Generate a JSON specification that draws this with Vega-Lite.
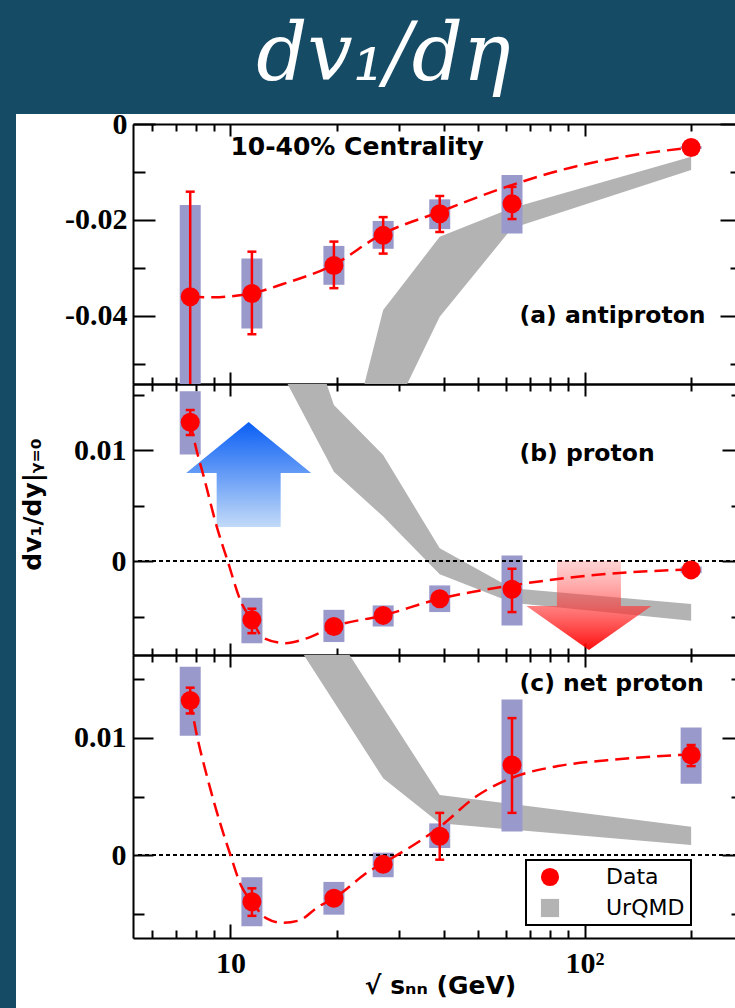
{
  "$schema": "https://vega.github.io/schema/vega-lite/v6.json",
  "width": 719,
  "height": 894,
  "autosize": {"type": "none"},
  "padding": {"left": 16, "top": 114, "right": 0, "bottom": 0},
  "background": "#164b66",
  "title": {"text": "dv₁/dη", "font": "DejaVu Serif", "fontStyle": "italic", "fontWeight": "normal", "fontSize": 80, "color": "white", "anchor": "middle", "frame": "group", "offset": -51, "baseline": "alphabetic", "dx": 8},
  "config": {
    "view": {"fill": "white", "stroke": null},
    "axis": {"grid": false, "domainColor": "#000000", "domainWidth": 2, "tickColor": "#000000", "tickWidth": 2, "labelFont": "Liberation Serif", "labelFontWeight": "bold", "labelFontSize": 30, "labelColor": "#000000", "titleFont": "DejaVu Sans", "titleFontWeight": "bold", "titleFontSize": 25, "titleColor": "#000000", "labelOverlap": false, "labelFlush": false, "labelBound": false, "zindex": 1, "ticks": true, "domain": true},
    "legend": {"strokeColor": "#000000", "strokeWidth": 2, "fillColor": "#ffffff", "padding": 6, "labelFont": "DejaVu Sans", "labelFontSize": 22, "labelColor": "#000000", "symbolStrokeWidth": 0, "symbolSize": 330, "rowPadding": 9, "labelOffset": 45, "symbolOffset": 7}
  },
  "datasets": {
    "pts": [
      {"p": "a", "x": 7.7, "y": -0.036, "lo": -0.058, "hi": -0.0141, "slo": -0.0551, "shi": -0.0169},
      {"p": "a", "x": 11.5, "y": -0.0353, "lo": -0.0438, "hi": -0.0266, "slo": -0.0426, "shi": -0.028},
      {"p": "a", "x": 19.6, "y": -0.0295, "lo": -0.0342, "hi": -0.0245, "slo": -0.0335, "shi": -0.0254},
      {"p": "a", "x": 27, "y": -0.0232, "lo": -0.027, "hi": -0.0194, "slo": -0.026, "shi": -0.0202},
      {"p": "a", "x": 39, "y": -0.0187, "lo": -0.0225, "hi": -0.015, "slo": -0.0219, "shi": -0.0157},
      {"p": "a", "x": 62.4, "y": -0.0166, "lo": -0.0198, "hi": -0.0131, "slo": -0.0228, "shi": -0.0106},
      {"p": "a", "x": 200, "y": -0.0049, "lo": -0.0052, "hi": -0.0046, "slo": -0.0052, "shi": -0.0046},
      {"p": "b", "x": 7.7, "y": 0.0125, "lo": 0.01135, "hi": 0.0136, "slo": 0.0096, "shi": 0.0153},
      {"p": "b", "x": 11.5, "y": -0.0053, "lo": -0.0065, "hi": -0.0043, "slo": -0.0074, "shi": -0.0033},
      {"p": "b", "x": 19.6, "y": -0.0059, "lo": -0.0063, "hi": -0.0055, "slo": -0.0073, "shi": -0.0044},
      {"p": "b", "x": 27, "y": -0.0049, "lo": -0.0053, "hi": -0.0045, "slo": -0.0059, "shi": -0.004},
      {"p": "b", "x": 39, "y": -0.0034, "lo": -0.0038, "hi": -0.003, "slo": -0.0046, "shi": -0.0022},
      {"p": "b", "x": 62.4, "y": -0.00255, "lo": -0.0046, "hi": -0.0007, "slo": -0.0058, "shi": 0.0005},
      {"p": "b", "x": 200, "y": -0.0008, "lo": -0.0011, "hi": -0.0005, "slo": -0.0011, "shi": -0.0005},
      {"p": "c", "x": 7.7, "y": 0.0132, "lo": 0.0121, "hi": 0.0143, "slo": 0.0102, "shi": 0.0161},
      {"p": "c", "x": 11.5, "y": -0.004, "lo": -0.0052, "hi": -0.00285, "slo": -0.0061, "shi": -0.0019},
      {"p": "c", "x": 19.6, "y": -0.0037, "lo": -0.0041, "hi": -0.0033, "slo": -0.0051, "shi": -0.0023},
      {"p": "c", "x": 27, "y": -0.0008, "lo": -0.0012, "hi": -0.0004, "slo": -0.0019, "shi": 0.0002},
      {"p": "c", "x": 39, "y": 0.0016, "lo": -0.0004, "hi": 0.0036, "slo": 0.0006, "shi": 0.0027},
      {"p": "c", "x": 62.4, "y": 0.0077, "lo": 0.0036, "hi": 0.0117, "slo": 0.002, "shi": 0.0133},
      {"p": "c", "x": 200, "y": 0.00855, "lo": 0.0076, "hi": 0.0094, "slo": 0.0061, "shi": 0.0109}
    ],
    "fit": [
      {"p": "a", "x": 7.7, "y": -0.036}, {"p": "a", "x": 9, "y": -0.0361}, {"p": "a", "x": 10, "y": -0.0359}, {"p": "a", "x": 11.5, "y": -0.0353}, {"p": "a", "x": 14, "y": -0.0334}, {"p": "a", "x": 19.6, "y": -0.0293}, {"p": "a", "x": 26.6, "y": -0.0231}, {"p": "a", "x": 39, "y": -0.0183}, {"p": "a", "x": 58.5, "y": -0.0134}, {"p": "a", "x": 85.9, "y": -0.0096}, {"p": "a", "x": 131.7, "y": -0.0067}, {"p": "a", "x": 200, "y": -0.0049},
      {"p": "b", "x": 7.7, "y": 0.0125}, {"p": "b", "x": 7.98, "y": 0.0103}, {"p": "b", "x": 8.41, "y": 0.0076}, {"p": "b", "x": 9.15, "y": 0.0031}, {"p": "b", "x": 9.8, "y": 0.0001}, {"p": "b", "x": 10.75, "y": -0.0038}, {"p": "b", "x": 11.5, "y": -0.0053}, {"p": "b", "x": 12.35, "y": -0.0069}, {"p": "b", "x": 14.3, "y": -0.0074}, {"p": "b", "x": 16.3, "y": -0.007}, {"p": "b", "x": 19.6, "y": -0.0059}, {"p": "b", "x": 27, "y": -0.0049}, {"p": "b", "x": 39, "y": -0.0034}, {"p": "b", "x": 62.4, "y": -0.0022}, {"p": "b", "x": 104, "y": -0.0013}, {"p": "b", "x": 200, "y": -0.00075},
      {"p": "c", "x": 7.7, "y": 0.0132}, {"p": "c", "x": 7.98, "y": 0.0107}, {"p": "c", "x": 8.59, "y": 0.0067}, {"p": "c", "x": 9.36, "y": 0.0027}, {"p": "c", "x": 10, "y": 0.0}, {"p": "c", "x": 10.75, "y": -0.0027}, {"p": "c", "x": 11.5, "y": -0.004}, {"p": "c", "x": 12.61, "y": -0.0054}, {"p": "c", "x": 14, "y": -0.0058}, {"p": "c", "x": 15.62, "y": -0.0056}, {"p": "c", "x": 17.75, "y": -0.0044}, {"p": "c", "x": 19.6, "y": -0.0037}, {"p": "c", "x": 24.9, "y": -0.0013}, {"p": "c", "x": 27, "y": -0.0007}, {"p": "c", "x": 39, "y": 0.0024}, {"p": "c", "x": 49.4, "y": 0.005}, {"p": "c", "x": 62.4, "y": 0.0066}, {"p": "c", "x": 84.1, "y": 0.0076}, {"p": "c", "x": 115.8, "y": 0.0081}, {"p": "c", "x": 200, "y": 0.0086}
    ],
    "band": [
      {"p": "a", "x": 23.9, "up": -0.05417, "low": -0.05417}, {"p": "a", "x": 27, "up": -0.03875, "low": -0.05417}, {"p": "a", "x": 31.56, "up": -0.03228, "low": -0.05417}, {"p": "a", "x": 39, "up": -0.02348, "low": -0.04015}, {"p": "a", "x": 62.4, "up": -0.0175, "low": -0.0217}, {"p": "a", "x": 200, "up": -0.0068, "low": -0.0096},
      {"p": "b", "x": 14.5, "up": 0.015946, "low": 0.015946}, {"p": "b", "x": 18.7, "up": 0.015946, "low": 0.00928}, {"p": "b", "x": 19.6, "up": 0.01405, "low": 0.00805}, {"p": "b", "x": 27, "up": 0.00955, "low": 0.004}, {"p": "b", "x": 39, "up": 0.00114, "low": -0.0012}, {"p": "b", "x": 62.4, "up": -0.00246, "low": -0.00375}, {"p": "b", "x": 200, "up": -0.00387, "low": -0.00538},
      {"p": "c", "x": 16.12, "up": 0.017094, "low": 0.017094}, {"p": "c", "x": 21.7, "up": 0.017094, "low": 0.01102}, {"p": "c", "x": 27, "up": 0.01263, "low": 0.00656}, {"p": "c", "x": 39, "up": 0.00513, "low": 0.00271}, {"p": "c", "x": 200, "up": 0.00242, "low": 0.00085}
    ],
    "labels": [
      {"p": "a", "x": 65.5, "y": -0.0415, "t": "(a) antiproton"},
      {"p": "b", "x": 65.5, "y": 0.009, "t": "(b) proton"},
      {"p": "c", "x": 65.5, "y": 0.014, "t": "(c) net proton"}
    ],
    "note": [{"x": 10, "y": -0.0065, "t": "10-40% Centrality"}],
    "arrows": [{"k": "up", "x": 11.26, "y": 0.00779}, {"k": "down", "x": 102.9, "y": -0.00401}]
  },
  "layer": [
    {
      "layer": [
        {"data": {"name": "band"}, "transform": [{"filter": "datum.p == 'a'"}],
         "mark": {"type": "area", "color": "#b3b3b3", "opacity": 1},
         "encoding": {
           "x": {"field": "x", "type": "quantitative", "scale": {"type": "log", "domain": [5.4832, 269.5], "range": [117, 726], "nice": false},
                 "axis": {"orient": "top", "offset": -10, "values": [6,7,8,9,10,20,30,40,50,60,70,80,90,100,200], "labels": false, "title": null, "tickSize": {"condition": {"test": "datum.value == 10 || datum.value == 100", "value": -12}, "value": -7}}},
           "y": {"field": "up", "type": "quantitative", "scale": {"domain": [-0.05417, 0], "range": [270, 10], "nice": false, "zero": false, "clamp": true},
                 "axis": {"orient": "left", "offset": -117, "values": [0, -0.01, -0.02, -0.03, -0.04, -0.05], "labelExpr": "datum.value == 0 ? '0' : datum.value == -0.02 ? '-0.02' : datum.value == -0.04 ? '-0.04' : ''", "labelPadding": 28, "title": null, "tickSize": {"condition": {"test": "datum.value == 0 || datum.value == -0.02 || datum.value == -0.04", "value": -22}, "value": -12}}},
           "y2": {"field": "low"}
         }},
        {"data": {"name": "pts"}, "transform": [{"filter": "datum.p == 'a'"}],
         "mark": {"type": "bar", "color": "#9999cc", "size": 21, "opacity": 1},
         "encoding": {
           "x": {"field": "x", "type": "quantitative", "axis": {"orient": "bottom", "offset": -624, "values": [6,7,8,9,10,20,30,40,50,60,70,80,90,100,200], "labels": false, "title": null, "tickSize": {"condition": {"test": "datum.value == 10 || datum.value == 100", "value": -12}, "value": -7}}},
           "y": {"field": "slo", "type": "quantitative", "axis": {"orient": "right", "offset": 7, "values": [0, -0.01, -0.02, -0.03, -0.04, -0.05], "labels": false, "title": null, "tickSize": {"condition": {"test": "datum.value == 0 || datum.value == -0.02 || datum.value == -0.04", "value": -22}, "value": -12}}},
           "y2": {"field": "shi"}
         }},
        {"data": {"name": "fit"}, "transform": [{"filter": "datum.p == 'a'"}],
         "mark": {"type": "line", "color": "#ff0000", "strokeWidth": 2.5, "strokeDash": [14, 7], "interpolate": "monotone"},
         "encoding": {"x": {"field": "x", "type": "quantitative", "axis": null}, "y": {"field": "y", "type": "quantitative", "axis": null}}},
        {"data": {"name": "pts"}, "transform": [{"filter": "datum.p == 'a'"}],
         "mark": {"type": "rule", "color": "#ff0000", "strokeWidth": 2.5},
         "encoding": {"x": {"field": "x", "type": "quantitative", "axis": null}, "y": {"field": "lo", "type": "quantitative", "axis": null}, "y2": {"field": "hi"}}},
        {"data": {"name": "pts"}, "transform": [{"filter": "datum.p == 'a'"}],
         "mark": {"type": "tick", "orient": "horizontal", "size": 9, "thickness": 2.5, "color": "#ff0000", "opacity": 1},
         "encoding": {"x": {"field": "x", "type": "quantitative", "axis": null}, "y": {"field": "hi", "type": "quantitative", "axis": null}}},
        {"data": {"name": "pts"}, "transform": [{"filter": "datum.p == 'a' && datum.lo > -0.054"}],
         "mark": {"type": "tick", "orient": "horizontal", "size": 9, "thickness": 2.5, "color": "#ff0000", "opacity": 1},
         "encoding": {"x": {"field": "x", "type": "quantitative", "axis": null}, "y": {"field": "lo", "type": "quantitative", "axis": null}}},
        {"data": {"name": "pts"}, "transform": [{"filter": "datum.p == 'a'"}],
         "mark": {"type": "point", "filled": true, "size": 361, "color": "#ff0000", "opacity": 1, "strokeWidth": 0},
         "encoding": {"x": {"field": "x", "type": "quantitative", "axis": null}, "y": {"field": "y", "type": "quantitative", "axis": null}}},
        {"data": {"name": "labels"}, "transform": [{"filter": "datum.p == 'a'"}],
         "mark": {"type": "text", "font": "DejaVu Sans", "fontWeight": "bold", "fontSize": 23.5, "align": "left", "baseline": "alphabetic", "color": "#000000"},
         "encoding": {"x": {"field": "x", "type": "quantitative", "axis": null}, "y": {"field": "y", "type": "quantitative", "axis": null}, "text": {"field": "t", "type": "nominal"}}},
        {"data": {"name": "note"},
         "mark": {"type": "text", "font": "DejaVu Sans", "fontWeight": "bold", "fontSize": 25, "align": "left", "baseline": "alphabetic", "color": "#000000"},
         "encoding": {"x": {"field": "x", "type": "quantitative", "axis": null}, "y": {"field": "y", "type": "quantitative", "axis": null}, "text": {"field": "t", "type": "nominal"}}}
      ],
      "resolve": {"axis": {"x": "independent", "y": "independent"}}
    },
    {
      "layer": [
        {"data": {"name": "band"}, "transform": [{"filter": "datum.p == 'b'"}],
         "mark": {"type": "area", "color": "#b3b3b3", "opacity": 1},
         "encoding": {
           "x": {"field": "x", "type": "quantitative", "scale": {"type": "log", "domain": [5.4832, 269.5], "range": [117, 726], "nice": false},
                 "axis": {"orient": "top", "offset": -270, "values": [6,7,8,9,10,20,30,40,50,60,70,80,90,100,200], "labels": false, "title": null, "tickSize": {"condition": {"test": "datum.value == 10 || datum.value == 100", "value": -12}, "value": -7}}},
           "y": {"field": "up", "type": "quantitative", "scale": {"domain": [-0.008468, 0.015946], "range": [541, 270], "nice": false, "zero": false, "clamp": true},
                 "axis": {"orient": "left", "offset": -117, "values": [-0.005, 0, 0.005, 0.01, 0.015], "labelExpr": "datum.value == 0 ? '0' : datum.value == 0.01 ? '0.01' : ''", "labelPadding": 27, "tickSize": {"condition": {"test": "datum.value == 0 || datum.value == 0.01", "value": -20}, "value": -11},
                          "title": "dv₁/dy|ᵧ₌₀", "titleX": -93, "titleY": 390, "titleAngle": -90, "titleAlign": "center", "titleBaseline": "alphabetic"}},
           "y2": {"field": "low"}
         }},
        {"data": {"name": "pts"}, "transform": [{"filter": "datum.p == 'b'"}],
         "mark": {"type": "bar", "color": "#9999cc", "size": 21, "opacity": 1},
         "encoding": {
           "x": {"field": "x", "type": "quantitative", "axis": {"orient": "bottom", "offset": -353, "values": [6,7,8,9,10,20,30,40,50,60,70,80,90,100,200], "labels": false, "title": null, "tickSize": {"condition": {"test": "datum.value == 10 || datum.value == 100", "value": -12}, "value": -7}}},
           "y": {"field": "slo", "type": "quantitative", "axis": {"orient": "right", "offset": 7, "values": [-0.005, 0, 0.005, 0.01, 0.015], "labels": false, "title": null, "tickSize": {"condition": {"test": "datum.value == 0 || datum.value == 0.01", "value": -20}, "value": -11}}},
           "y2": {"field": "shi"}
         }},
        {"data": {"values": [{}]},
         "mark": {"type": "rule", "color": "#000000", "strokeWidth": 2, "strokeDash": [4, 3]},
         "encoding": {"x": {"datum": 5.4832, "type": "quantitative", "axis": null}, "x2": {"datum": 269.5}, "y": {"datum": 0, "type": "quantitative", "axis": null}}},
        {"data": {"name": "arrows"}, "transform": [{"filter": "datum.k == 'up'"}],
         "mark": {"type": "point", "shape": "M0,-0.84 L1,-0.024 L0.512,-0.024 L0.512,0.84 L-0.512,0.84 L-0.512,-0.024 L-1,-0.024 Z", "size": 15625, "filled": true, "opacity": 1, "strokeWidth": 0,
                  "fill": {"gradient": "linear", "x1": 0, "y1": 0, "x2": 0, "y2": 1, "stops": [{"offset": 0, "color": "#0a5ff5"}, {"offset": 1, "color": "#c2daf8"}]}},
         "encoding": {"x": {"field": "x", "type": "quantitative", "axis": null}, "y": {"field": "y", "type": "quantitative", "axis": null}}},
        {"data": {"name": "arrows"}, "transform": [{"filter": "datum.k == 'down'"}],
         "mark": {"type": "point", "shape": "M-0.512,-0.712 L0.512,-0.712 L0.512,0.008 L1,0.008 L0,0.712 L-1,0.008 L-0.512,0.008 Z", "size": 15625, "filled": true, "opacity": 1, "strokeWidth": 0,
                  "fill": {"gradient": "linear", "x1": 0, "y1": 0, "x2": 0, "y2": 1, "stops": [{"offset": 0, "color": "rgba(255,110,110,0.3)"}, {"offset": 1, "color": "rgba(255,0,0,0.95)"}]}},
         "encoding": {"x": {"field": "x", "type": "quantitative", "axis": null}, "y": {"field": "y", "type": "quantitative", "axis": null}}},
        {"data": {"name": "fit"}, "transform": [{"filter": "datum.p == 'b'"}],
         "mark": {"type": "line", "color": "#ff0000", "strokeWidth": 2.5, "strokeDash": [14, 7], "interpolate": "monotone"},
         "encoding": {"x": {"field": "x", "type": "quantitative", "axis": null}, "y": {"field": "y", "type": "quantitative", "axis": null}}},
        {"data": {"name": "pts"}, "transform": [{"filter": "datum.p == 'b'"}],
         "mark": {"type": "rule", "color": "#ff0000", "strokeWidth": 2.5},
         "encoding": {"x": {"field": "x", "type": "quantitative", "axis": null}, "y": {"field": "lo", "type": "quantitative", "axis": null}, "y2": {"field": "hi"}}},
        {"data": {"name": "pts"}, "transform": [{"filter": "datum.p == 'b'"}],
         "mark": {"type": "tick", "orient": "horizontal", "size": 9, "thickness": 2.5, "color": "#ff0000", "opacity": 1},
         "encoding": {"x": {"field": "x", "type": "quantitative", "axis": null}, "y": {"field": "hi", "type": "quantitative", "axis": null}}},
        {"data": {"name": "pts"}, "transform": [{"filter": "datum.p == 'b'"}],
         "mark": {"type": "tick", "orient": "horizontal", "size": 9, "thickness": 2.5, "color": "#ff0000", "opacity": 1},
         "encoding": {"x": {"field": "x", "type": "quantitative", "axis": null}, "y": {"field": "lo", "type": "quantitative", "axis": null}}},
        {"data": {"name": "pts"}, "transform": [{"filter": "datum.p == 'b'"}],
         "mark": {"type": "point", "filled": true, "size": 361, "color": "#ff0000", "opacity": 1, "strokeWidth": 0},
         "encoding": {"x": {"field": "x", "type": "quantitative", "axis": null}, "y": {"field": "y", "type": "quantitative", "axis": null}}},
        {"data": {"name": "labels"}, "transform": [{"filter": "datum.p == 'b'"}],
         "mark": {"type": "text", "font": "DejaVu Sans", "fontWeight": "bold", "fontSize": 23.5, "align": "left", "baseline": "alphabetic", "color": "#000000"},
         "encoding": {"x": {"field": "x", "type": "quantitative", "axis": null}, "y": {"field": "y", "type": "quantitative", "axis": null}, "text": {"field": "t", "type": "nominal"}}}
      ],
      "resolve": {"axis": {"x": "independent", "y": "independent"}}
    },
    {
      "layer": [
        {"data": {"name": "band"}, "transform": [{"filter": "datum.p == 'c'"}],
         "mark": {"type": "area", "opacity": 1},
         "encoding": {
           "x": {"field": "x", "type": "quantitative", "scale": {"type": "log", "domain": [5.4832, 269.5], "range": [117, 726], "nice": false},
                 "axis": {"orient": "top", "offset": -541, "values": [6,7,8,9,10,20,30,40,50,60,70,80,90,100,200], "labels": false, "title": null, "tickSize": {"condition": {"test": "datum.value == 10 || datum.value == 100", "value": -12}, "value": -7}}},
           "y": {"field": "up", "type": "quantitative", "scale": {"domain": [-0.007094, 0.017094], "range": [824, 541], "nice": false, "zero": false, "clamp": true},
                 "axis": {"orient": "left", "offset": -117, "values": [-0.005, 0, 0.005, 0.01, 0.015], "labelExpr": "datum.value == 0 ? '0' : datum.value == 0.01 ? '0.01' : ''", "labelPadding": 27, "title": null, "tickSize": {"condition": {"test": "datum.value == 0 || datum.value == 0.01", "value": -20}, "value": -11}}},
           "y2": {"field": "low"},
           "color": {"datum": "UrQMD", "type": "nominal", "scale": {"domain": ["Data", "UrQMD"], "range": ["#ff0000", "#b3b3b3"]}, "legend": {"orient": "none", "legendX": 510, "legendY": 746, "title": null}}
         }},
        {"data": {"name": "pts"}, "transform": [{"filter": "datum.p == 'c'"}],
         "mark": {"type": "bar", "color": "#9999cc", "size": 21, "opacity": 1},
         "encoding": {
           "x": {"field": "x", "type": "quantitative", "axis": {"orient": "bottom", "offset": -70, "values": [6,7,8,9,10,20,30,40,50,60,70,80,90,100,200], "labelExpr": "datum.value == 10 ? '10' : datum.value == 100 ? '10²' : ''", "labelPadding": 24, "labelBaseline": "top", "labelAlign": "center", "tickSize": {"condition": {"test": "datum.value == 10 || datum.value == 100", "value": -14}, "value": -8},
                 "title": "√ sₙₙ (GeV)", "titleX": 424, "titleY": 55, "titleAlign": "center", "titleBaseline": "alphabetic", "titleAngle": 0}},
           "y": {"field": "slo", "type": "quantitative", "axis": {"orient": "right", "offset": 7, "values": [-0.005, 0, 0.005, 0.01, 0.015], "labels": false, "title": null, "tickSize": {"condition": {"test": "datum.value == 0 || datum.value == 0.01", "value": -20}, "value": -11}}},
           "y2": {"field": "shi"}
         }},
        {"data": {"values": [{}]},
         "mark": {"type": "rule", "color": "#000000", "strokeWidth": 2, "strokeDash": [4, 3]},
         "encoding": {"x": {"datum": 5.4832, "type": "quantitative", "axis": null}, "x2": {"datum": 269.5}, "y": {"datum": 0, "type": "quantitative", "axis": null}}},
        {"data": {"name": "fit"}, "transform": [{"filter": "datum.p == 'c'"}],
         "mark": {"type": "line", "color": "#ff0000", "strokeWidth": 2.5, "strokeDash": [14, 7], "interpolate": "monotone"},
         "encoding": {"x": {"field": "x", "type": "quantitative", "axis": null}, "y": {"field": "y", "type": "quantitative", "axis": null}}},
        {"data": {"name": "pts"}, "transform": [{"filter": "datum.p == 'c'"}],
         "mark": {"type": "rule", "color": "#ff0000", "strokeWidth": 2.5},
         "encoding": {"x": {"field": "x", "type": "quantitative", "axis": null}, "y": {"field": "lo", "type": "quantitative", "axis": null}, "y2": {"field": "hi"}}},
        {"data": {"name": "pts"}, "transform": [{"filter": "datum.p == 'c'"}],
         "mark": {"type": "tick", "orient": "horizontal", "size": 9, "thickness": 2.5, "color": "#ff0000", "opacity": 1},
         "encoding": {"x": {"field": "x", "type": "quantitative", "axis": null}, "y": {"field": "hi", "type": "quantitative", "axis": null}}},
        {"data": {"name": "pts"}, "transform": [{"filter": "datum.p == 'c'"}],
         "mark": {"type": "tick", "orient": "horizontal", "size": 9, "thickness": 2.5, "color": "#ff0000", "opacity": 1},
         "encoding": {"x": {"field": "x", "type": "quantitative", "axis": null}, "y": {"field": "lo", "type": "quantitative", "axis": null}}},
        {"data": {"name": "pts"}, "transform": [{"filter": "datum.p == 'c'"}],
         "mark": {"type": "point", "filled": true, "size": 361, "opacity": 1, "strokeWidth": 0},
         "encoding": {"x": {"field": "x", "type": "quantitative", "axis": null}, "y": {"field": "y", "type": "quantitative", "axis": null},
           "color": {"datum": "Data", "type": "nominal", "scale": {"domain": ["Data", "UrQMD"], "range": ["#ff0000", "#b3b3b3"]}, "legend": {"orient": "none", "legendX": 510, "legendY": 746, "title": null}},
           "shape": {"datum": "Data", "type": "nominal", "scale": {"domain": ["Data", "UrQMD"], "range": ["circle", "square"]}, "legend": {"orient": "none", "legendX": 510, "legendY": 746, "title": null}}}},
        {"data": {"name": "labels"}, "transform": [{"filter": "datum.p == 'c'"}],
         "mark": {"type": "text", "font": "DejaVu Sans", "fontWeight": "bold", "fontSize": 23.5, "align": "left", "baseline": "alphabetic", "color": "#000000"},
         "encoding": {"x": {"field": "x", "type": "quantitative", "axis": null}, "y": {"field": "y", "type": "quantitative", "axis": null}, "text": {"field": "t", "type": "nominal"}}}
      ],
      "resolve": {"axis": {"x": "independent", "y": "independent"}}
    }
  ],
  "resolve": {"scale": {"y": "independent"}, "axis": {"x": "independent", "y": "independent"}}
}
